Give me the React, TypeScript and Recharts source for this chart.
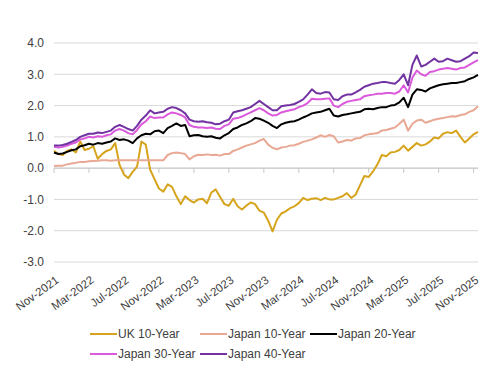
import React from "react";
import {
  LineChart,
  Line,
  XAxis,
  YAxis,
  CartesianGrid,
  ReferenceLine,
} from "recharts";

// half-month observation dates, Nov-2021 .. Nov-2025
const dates = [
  "2021-11-01", "2021-11-16", "2021-12-01", "2021-12-16", "2022-01-01", "2022-01-16", "2022-02-01", "2022-02-16",
  "2022-03-01", "2022-03-16", "2022-04-01", "2022-04-16", "2022-05-01", "2022-05-16", "2022-06-01", "2022-06-16",
  "2022-07-01", "2022-07-16", "2022-08-01", "2022-08-16", "2022-09-01", "2022-09-16", "2022-10-01", "2022-10-16",
  "2022-11-01", "2022-11-16", "2022-12-01", "2022-12-16", "2023-01-01", "2023-01-16", "2023-02-01", "2023-02-16",
  "2023-03-01", "2023-03-16", "2023-04-01", "2023-04-16", "2023-05-01", "2023-05-16", "2023-06-01", "2023-06-16",
  "2023-07-01", "2023-07-16", "2023-08-01", "2023-08-16", "2023-09-01", "2023-09-16", "2023-10-01", "2023-10-16",
  "2023-11-01", "2023-11-16", "2023-12-01", "2023-12-16", "2024-01-01", "2024-01-16", "2024-02-01", "2024-02-16",
  "2024-03-01", "2024-03-16", "2024-04-01", "2024-04-16", "2024-05-01", "2024-05-16", "2024-06-01", "2024-06-16",
  "2024-07-01", "2024-07-16", "2024-08-01", "2024-08-16", "2024-09-01", "2024-09-16", "2024-10-01", "2024-10-16",
  "2024-11-01", "2024-11-16", "2024-12-01", "2024-12-16", "2025-01-01", "2025-01-16", "2025-02-01", "2025-02-16",
  "2025-03-01", "2025-03-16", "2025-04-01", "2025-04-16", "2025-05-01", "2025-05-16", "2025-06-01", "2025-06-16",
  "2025-07-01", "2025-07-16", "2025-08-01", "2025-08-16", "2025-09-01", "2025-09-16", "2025-10-01", "2025-10-16",
  "2025-11-01", "2025-11-16",
];

const uk10 = [
  0.55, 0.45, 0.42, 0.55, 0.6, 0.5, 0.85, 0.58,
  0.62, 0.7, 0.3, 0.45, 0.55, 0.6, 0.8, 0.1,
  -0.2, -0.32, -0.12, 0.05, 0.85, 0.75, -0.05, -0.35,
  -0.65, -0.75, -0.52, -0.6, -0.9, -1.15, -0.9, -1.02,
  -1.1, -1.0, -0.98, -1.12, -0.78, -0.68, -0.92, -1.15,
  -1.2, -0.98, -1.22, -1.32, -1.2, -1.1, -1.15, -1.36,
  -1.42, -1.68, -2.02, -1.65, -1.45, -1.38, -1.28, -1.22,
  -1.12, -0.95, -1.02, -0.98, -0.96, -1.02, -0.95, -1.0,
  -1.0, -0.95, -0.9, -0.8, -0.95, -0.85, -0.55, -0.25,
  -0.28, -0.1, 0.12, 0.42, 0.38, 0.5, 0.52, 0.58,
  0.72, 0.56, 0.68, 0.8, 0.72, 0.76, 0.85, 0.98,
  0.95, 1.1, 1.15, 1.12, 1.2, 1.0, 0.82, 0.95,
  1.08, 1.16,
];

const jp10 = [
  0.07, 0.08, 0.08, 0.12, 0.15, 0.17, 0.2, 0.2,
  0.22, 0.23, 0.24, 0.25, 0.25, 0.24, 0.25, 0.25,
  0.25, 0.25, 0.25, 0.25, 0.25, 0.25, 0.25, 0.25,
  0.25, 0.25, 0.42, 0.48, 0.5, 0.48, 0.45, 0.28,
  0.38, 0.43, 0.42, 0.44, 0.42, 0.43, 0.4, 0.45,
  0.45, 0.55, 0.6, 0.66, 0.72, 0.76, 0.8, 0.88,
  0.93, 0.75, 0.65, 0.6, 0.66, 0.68, 0.72, 0.73,
  0.78, 0.84, 0.88, 0.92, 0.98, 1.05, 1.0, 1.06,
  1.02, 0.82, 0.85, 0.9, 0.88, 0.95, 0.96, 1.05,
  1.08, 1.1, 1.12, 1.2, 1.22, 1.26, 1.3, 1.42,
  1.55, 1.2, 1.42, 1.52, 1.55, 1.45, 1.5, 1.55,
  1.58, 1.6, 1.63, 1.66, 1.65, 1.7, 1.72, 1.8,
  1.85, 1.98,
];

const jp20 = [
  0.5, 0.45, 0.47, 0.52, 0.57, 0.6, 0.7, 0.73,
  0.78, 0.75, 0.8, 0.78, 0.82, 0.85, 0.95, 0.9,
  0.92, 0.88, 0.8, 0.95, 1.05, 1.1, 1.08, 1.18,
  1.2, 1.12, 1.28, 1.35, 1.43, 1.35, 1.38, 1.02,
  1.05, 1.06, 1.02, 1.0, 1.02, 0.97, 0.95, 1.05,
  1.12, 1.25, 1.3, 1.38, 1.43, 1.5, 1.6, 1.58,
  1.52, 1.45, 1.35, 1.28, 1.4, 1.45, 1.48, 1.5,
  1.55, 1.62, 1.68, 1.75, 1.78, 1.8, 1.85, 1.9,
  1.68, 1.65, 1.7, 1.72, 1.75, 1.78, 1.8, 1.88,
  1.9, 1.88, 1.92, 1.95, 1.95, 2.0, 2.02, 2.1,
  2.25, 1.95, 2.35, 2.52, 2.5, 2.45, 2.55, 2.6,
  2.65, 2.68, 2.7, 2.72, 2.72, 2.75, 2.78, 2.85,
  2.9, 2.98,
];

const jp30 = [
  0.68, 0.66, 0.68, 0.72, 0.78, 0.82, 0.92, 0.95,
  1.0, 0.98, 1.02, 1.0, 1.05, 1.08, 1.2, 1.25,
  1.2, 1.12, 1.08, 1.22, 1.4, 1.5, 1.65, 1.6,
  1.62, 1.62, 1.72, 1.78, 1.75, 1.7, 1.62, 1.38,
  1.32, 1.3, 1.3, 1.28, 1.3, 1.26, 1.25, 1.35,
  1.4, 1.58, 1.6, 1.65, 1.72, 1.78, 1.85, 1.92,
  1.85, 1.75, 1.68, 1.7, 1.78, 1.82, 1.85, 1.88,
  1.95, 2.0, 2.08, 2.22, 2.2, 2.2, 2.22, 2.23,
  2.0, 1.95, 2.05, 2.12, 2.15, 2.18, 2.2, 2.3,
  2.33, 2.35, 2.38, 2.38, 2.4, 2.4, 2.38, 2.45,
  2.65, 2.42, 2.9, 3.12, 3.0, 2.95, 3.07, 3.1,
  3.15, 3.18, 3.2, 3.18, 3.15, 3.2, 3.22, 3.3,
  3.38, 3.45,
];

const jp40 = [
  0.72, 0.72, 0.74, 0.78, 0.84, 0.9, 1.0, 1.05,
  1.1, 1.1, 1.14, 1.12, 1.16, 1.2, 1.32, 1.38,
  1.32, 1.25, 1.2, 1.35, 1.55, 1.68, 1.85, 1.75,
  1.78, 1.8, 1.9, 1.95, 1.92, 1.85, 1.75, 1.55,
  1.5, 1.48, 1.5, 1.47, 1.45, 1.4, 1.42, 1.5,
  1.55, 1.78, 1.82, 1.85, 1.9, 1.95, 2.05, 2.15,
  2.05, 1.95, 1.85, 1.85, 1.98, 2.0, 2.02, 2.05,
  2.12, 2.2, 2.35, 2.52, 2.4, 2.38, 2.43, 2.42,
  2.2, 2.18, 2.3, 2.35, 2.35, 2.42, 2.5, 2.6,
  2.65, 2.7, 2.72, 2.75, 2.75, 2.72, 2.7, 2.82,
  3.0, 2.65, 3.3, 3.6, 3.25, 3.3, 3.4, 3.5,
  3.4, 3.42, 3.5, 3.45, 3.4, 3.42, 3.5, 3.58,
  3.7, 3.68,
];

const yTicks = [-3, -2, -1, 0, 1, 2, 3, 4];
const MONTHS = ["Jan", "Feb", "Mar", "Apr", "May", "Jun", "Jul", "Aug", "Sep", "Oct", "Nov", "Dec"];

const SERIES = [
  { key: "uk10", name: "UK 10-Year", color: "#D6A41C", values: uk10 },
  { key: "jp10", name: "Japan 10-Year", color: "#E9A893", values: jp10 },
  { key: "jp20", name: "Japan 20-Year", color: "#000000", values: jp20 },
  { key: "jp30", name: "Japan 30-Year", color: "#DA5ADB", values: jp30 },
  { key: "jp40", name: "Japan 40-Year", color: "#7232A2", values: jp40 },
];

const data = dates.map((d, i) => {
  const row: Record<string, number | string> = { date: d };
  SERIES.forEach((s) => (row[s.key] = s.values[i]));
  return row;
});

// every 8th half-month = every 4 months
const tickDates = dates.filter((_, i) => i % 8 === 0);

const fmtDate = (d: string) => {
  const [y, m] = d.split("-");
  return `${MONTHS[Number(m) - 1]}-${y}`;
};

const FONT = "'Liberation Sans', Arial, sans-serif";
const TEXT = "#404040";

const DateTick = (props: any) => {
  const { x, payload } = props;
  return (
    <g transform={`translate(${x + 1},${275})`}>
      <text
        x={0}
        y={0}
        dy="0.71em"
        textAnchor="end"
        transform="rotate(-36)"
        fontSize={11.5}
        fontFamily={FONT}
        fill={TEXT}
      >
        {fmtDate(payload.value)}
      </text>
    </g>
  );
};

export default function App() {
  return (
    <div
      style={{
        position: "fixed",
        left: 0,
        top: 0,
        width: 503,
        height: 371,
        background: "#fff",
      }}
    >
      <LineChart
        width={503}
        height={371}
        data={data}
        margin={{ top: 43, right: 25, bottom: 0, left: 0 }}
      >
        <CartesianGrid vertical={false} stroke="#d9d9d9" strokeWidth={1} />
        <XAxis
          dataKey="date"
          interval={7}
          height={109}
          axisLine={false}
          tickLine={false}
          tickSize={0}
          tickMargin={0}
          tick={<DateTick />}
        />
        <YAxis
          type="number"
          domain={[-3, 4]}
          ticks={yTicks}
          width={54}
          axisLine={false}
          tickLine={false}
          tickMargin={4}
          tickFormatter={(v: number) => v.toFixed(1)}
          tick={{ fontSize: 12, fontFamily: FONT, fill: TEXT }}
        />
        <ReferenceLine y={0} stroke="#c6c6c6" strokeWidth={1} />
        {tickDates.map((d) => (
          <ReferenceLine
            key={d}
            segment={[
              { x: d, y: 0 },
              { x: d, y: -0.15 },
            ]}
            stroke="#c6c6c6"
            strokeWidth={1}
          />
        ))}
        {SERIES.map((s) => (
          <Line
            key={s.key}
            type="linear"
            dataKey={s.key}
            name={s.name}
            stroke={s.color}
            strokeWidth={2}
            strokeLinejoin="round"
            dot={false}
            activeDot={false}
            isAnimationActive={false}
          />
        ))}
      </LineChart>
      <div
        style={{
          position: "absolute",
          left: 90,
          top: 324,
          display: "grid",
          gridTemplateColumns: "110px 110px 110px",
          gridAutoRows: "20px",
          fontFamily: FONT,
          fontSize: 12,
          color: TEXT,
        }}
      >
        {SERIES.map((s) => (
          <div key={s.key} style={{ display: "flex", alignItems: "center", whiteSpace: "nowrap" }}>
            <span
              style={{
                display: "inline-block",
                width: 27,
                height: 2,
                background: s.color,
                marginRight: 1,
              }}
            />
            <span>{s.name}</span>
          </div>
        ))}
      </div>
    </div>
  );
}
